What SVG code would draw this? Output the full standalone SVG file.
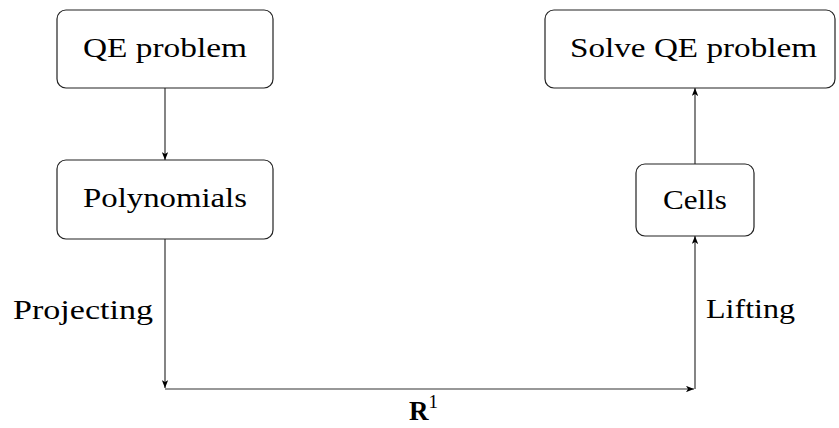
<svg xmlns="http://www.w3.org/2000/svg" width="839" height="428" viewBox="0 0 839 428">
<defs>
<style>
.box{fill:#fff;stroke:#222;stroke-width:1.2}
.t{font-family:"Liberation Serif","DejaVu Serif",serif;font-size:27px;fill:#000}
.c{fill:none;stroke:#333;stroke-width:1.2}
</style>
<marker id="ah" viewBox="0 0 10 8" refX="10" refY="4" markerWidth="8" markerHeight="6.4" markerUnits="userSpaceOnUse" orient="auto">
<path d="M0,0 L10,4 L0,8 L2.5,4 Z" fill="#000"/>
</marker>
</defs>
<rect width="839" height="428" fill="#fff"/>
<g id="connectors">
<line class="c" x1="165" y1="88" x2="165" y2="160" marker-end="url(#ah)"/>
<line class="c" x1="165" y1="239" x2="165" y2="388" marker-end="url(#ah)"/>
<line class="c" x1="165" y1="389" x2="694" y2="389" marker-end="url(#ah)"/>
<line class="c" x1="695" y1="389" x2="695" y2="236" marker-end="url(#ah)"/>
<line class="c" x1="695" y1="164" x2="695" y2="88" marker-end="url(#ah)"/>
</g>
<g id="qe">
<rect class="box" x="57" y="10" width="216" height="78" rx="9"/>
<text class="t" x="165" y="57" text-anchor="middle" textLength="164" lengthAdjust="spacingAndGlyphs">QE problem</text>
</g>
<g id="solve">
<rect class="box" x="545" y="10" width="290" height="78" rx="9"/>
<text class="t" x="693.5" y="57" text-anchor="middle" textLength="247" lengthAdjust="spacingAndGlyphs">Solve QE problem</text>
</g>
<g id="poly">
<rect class="box" x="57" y="160" width="216" height="79" rx="9"/>
<text class="t" x="165" y="207" text-anchor="middle" textLength="164" lengthAdjust="spacingAndGlyphs">Polynomials</text>
</g>
<g id="cells">
<rect class="box" x="636" y="164" width="118" height="72" rx="9"/>
<text class="t" x="695" y="209" text-anchor="middle" textLength="64" lengthAdjust="spacingAndGlyphs">Cells</text>
</g>
<g id="labels">
<text class="t" x="13" y="319" textLength="140" lengthAdjust="spacingAndGlyphs">Projecting</text>
<text class="t" x="706" y="318" textLength="89" lengthAdjust="spacingAndGlyphs">Lifting</text>
<text class="t" x="409" y="420" font-weight="bold">R<tspan font-weight="normal" font-size="19" dy="-12">1</tspan></text>
</g>
</svg>
